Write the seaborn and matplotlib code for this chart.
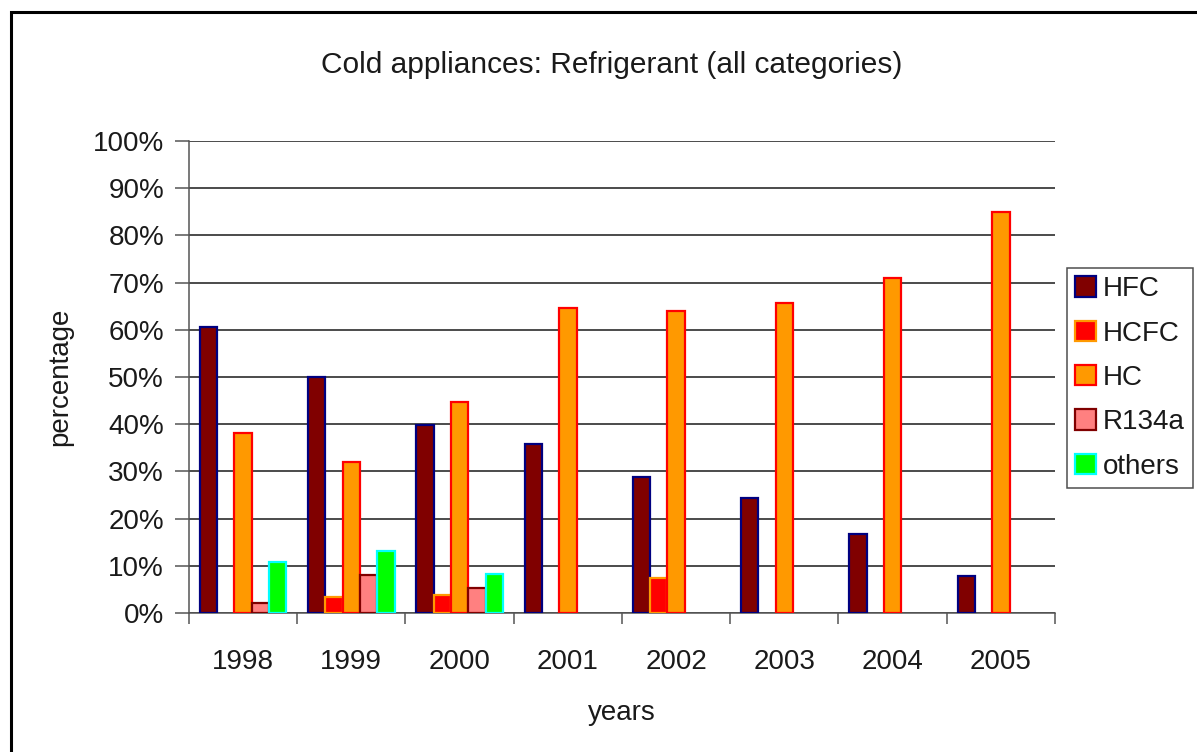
import numpy as np
import pandas as pd
import matplotlib
matplotlib.use("Agg")
import matplotlib.pyplot as plt
from matplotlib.patches import Rectangle, Patch
from matplotlib.ticker import FixedLocator, PercentFormatter
import seaborn as sns

# Refrigerant shares per year (percent); NaN where a refrigerant is not reported
years = ["1998", "1999", "2000", "2001", "2002", "2003", "2004", "2005"]
refrigerants = ["HFC", "HCFC", "HC", "R134a", "others"]
hfc = [60.6, 50.0, 39.8, 35.8, 28.8, 24.4, 16.7, 7.8]
hcfc = [np.nan, 3.4, 3.8, np.nan, 7.4, np.nan, np.nan, np.nan]
hc = [38.1, 32.0, 44.7, 64.6, 64.0, 65.7, 71.0, 85.0]
r134a = [2.1, 8.0, 5.3, np.nan, np.nan, np.nan, np.nan, np.nan]
others = [10.8, 13.1, 8.2, np.nan, np.nan, np.nan, np.nan, np.nan]

fill_colors = ["#800000", "#FF0000", "#FF9900", "#FF8080", "#00FF00"]
edge_colors = ["#000080", "#FF9900", "#FF0000", "#800000", "#00FFFF"]

series = {"HFC": hfc, "HCFC": hcfc, "HC": hc, "R134a": r134a, "others": others}
rows = []
for name, vals in series.items():
    for yr, v in zip(years, vals):
        if not np.isnan(v):
            rows.append({"year": yr, "refrigerant": name, "share": v})
df = pd.DataFrame(rows)

sns.set_theme(style="white")
plt.rcParams["font.family"] = ["Liberation Sans", "DejaVu Sans"]
text_color = "#1a1a1a"
fs = 20

fig = plt.figure(figsize=(11.97, 7.52), dpi=100)
W, H = 1197, 752
ax = fig.add_axes([189 / W, 1 - 613 / H, (1055 - 189) / W, (613 - 141) / H])

sns.barplot(
    data=df, x="year", y="share", hue="refrigerant",
    order=years, hue_order=refrigerants,
    palette=dict(zip(refrigerants, fill_colors)), saturation=1,
    width=0.8, ax=ax, legend=False, zorder=3,
)

for cont, ec in zip(ax.containers, edge_colors):
    for bar in cont:
        bar.set_edgecolor(ec)
        bar.set_linewidth(1.6)

ax.set_ylim(0, 100)
ax.set_xlim(-0.5, len(years) - 0.5)
ax.yaxis.set_major_locator(FixedLocator(np.arange(0, 101, 10)))
ax.yaxis.set_major_formatter(PercentFormatter(decimals=0))
ax.grid(axis="y", color="#1a1a1a", linewidth=1.1, zorder=0)
ax.set_axisbelow(True)

ax.tick_params(axis="y", which="major", direction="out", length=10, width=1.1,
               color="#555555", left=True, pad=8, labelsize=fs, labelcolor=text_color)
ax.tick_params(axis="x", which="major", length=0, pad=26, labelsize=fs,
               labelcolor=text_color)
ax.xaxis.set_minor_locator(FixedLocator(np.arange(-0.5, len(years), 1.0)))
ax.tick_params(axis="x", which="minor", direction="out", length=8, width=1.1,
               color="#555555", bottom=True)

for side in ["top", "right"]:
    ax.spines[side].set_visible(False)
for side in ["left", "bottom"]:
    ax.spines[side].set_color("#555555")
    ax.spines[side].set_linewidth(1.1)

ax.set_xlabel("years", fontsize=fs, color=text_color, labelpad=18)
ax.set_ylabel("percentage", fontsize=fs, color=text_color, labelpad=14)
fig.text(612 / W, 1 - 65 / H, "Cold appliances: Refrigerant (all categories)",
         ha="center", va="center", fontsize=21.5, color=text_color)

handles = [Patch(facecolor=fc, edgecolor=ec, linewidth=1.6, label=n)
           for n, fc, ec in zip(refrigerants, fill_colors, edge_colors)]
leg = fig.legend(handles=handles, loc="upper left",
                 bbox_to_anchor=(1067 / W, 1 - 268 / H),
                 frameon=True, fancybox=False, fontsize=fs,
                 handlelength=0.75, handleheight=0.75, handletextpad=0.25,
                 labelspacing=0.66, borderpad=0.3, borderaxespad=0)
leg.get_frame().set_edgecolor("#222222")
leg.get_frame().set_linewidth(1.1)
for t in leg.get_texts():
    t.set_color(text_color)

# outer chart frame (top and left edges visible)
fig.patches.append(Rectangle((11 / W, -0.2), 1.2, 1 - 12 / H + 0.2,
                             transform=fig.transFigure, fill=False,
                             edgecolor="black", linewidth=2.2, zorder=0))

fig.savefig("out.png", dpi=100, facecolor="white")
